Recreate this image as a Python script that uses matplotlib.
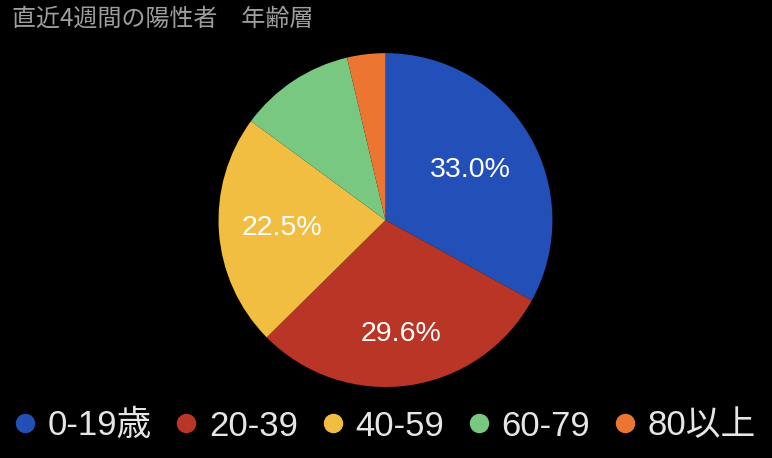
import matplotlib
matplotlib.use('Agg')
import matplotlib.pyplot as plt
from matplotlib.lines import Line2D

# data
age_groups = ['0-19歳', '20-39', '40-59', '60-79', '80以上']
shares = [33.0, 29.6, 22.5, 11.2, 3.7]
colors = ['#2350B8', '#B93526', '#F2BE42', '#78C882', '#EC7531']
title = '直近4週間の陽性者\u3000年齢層'

fonts = ['Liberation Sans', 'Noto Sans CJK JP', 'DejaVu Sans']
plt.rcParams['font.family'] = fonts

fig = plt.figure(figsize=(7.72, 4.58), dpi=100, facecolor='black')
ax = fig.add_axes([0.283, 0.155, 0.4326, 0.729])
ax.set_facecolor('black')


def pct_label(p):
    # small slices get no label, like the original
    return '%.1f%%' % p if p >= 15 else ''


wedges, texts, autotexts = ax.pie(shares, colors=colors, startangle=90,
                                  counterclock=False, autopct=pct_label,
                                  pctdistance=0.63,
                                  wedgeprops={'linewidth': 0},
                                  textprops={'color': 'white', 'fontsize': 20.5})

# nudge labels along their own radius
label_dist = [0.59, 0.69, 0.62, 0.63, 0.63]
for t, d in zip(autotexts, label_dist):
    x, y = t.get_position()
    t.set_position((x / 0.63 * d, y / 0.63 * d))

ax.set_xlim(-1, 1)
ax.set_ylim(-1, 1)
ax.set_aspect('equal')
ax.axis('off')

fig.text(0.016, 1 - 19 / 458, title, color='#9E9E9E', fontsize=17.3,
         va='center', ha='left', family=['Noto Sans CJK JP', 'DejaVu Sans'])

handles = [Line2D([], [], marker='o', linestyle='', markersize=13,
                  markerfacecolor=c, markeredgecolor=c) for c in colors]
leg = fig.legend(handles, age_groups, loc='center left',
                 bbox_to_anchor=(14.5 / 772, 32 / 458), ncol=5, frameon=False,
                 fontsize=25, handlelength=0.6, handletextpad=0.35,
                 columnspacing=0.7, borderpad=0, borderaxespad=0)
for t in leg.get_texts():
    t.set_color('#E6E6E6')

fig.savefig('out.png', dpi=100, facecolor='black')
